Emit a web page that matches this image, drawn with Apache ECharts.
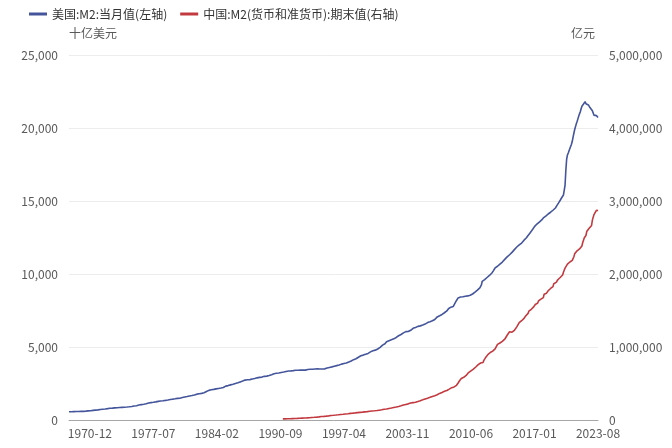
<!DOCTYPE html>
<html>
<head>
<meta charset="utf-8">
<script src="https://cdn.jsdelivr.net/npm/echarts@6/dist/echarts.min.js"></script>
<style>
html,body{margin:0;padding:0;background:#fff;}
#chart{width:672px;height:448px;}
</style>
</head>
<body>
<div id="chart"></div>
<script>
// Month categories: 1968-10 .. 2023-08
var startYear = 1968, startMonth = 10, endYear = 2023, endMonth = 8;
var categories = [];
(function(){
  var y = startYear, m = startMonth;
  while (y < endYear || (y === endYear && m <= endMonth)) {
    categories.push(y + '-' + (m < 10 ? '0' + m : '' + m));
    m++; if (m > 12) { m = 1; y++; }
  }
})();

var tickLabels = ['1970-12','1977-07','1984-02','1990-09','1997-04','2003-11','2010-06','2017-01','2023-08'];

// US M2 (billion USD), monthly from 1968-10
var usM2 = [
560,564,567,
569,571,573,575,576,578,579,580,581,583,585,587,
589,587,589,594,598,601,606,612,618,622,625,627,
632,640,650,658,665,671,676,681,686,691,696,710,
717,724,731,737,742,748,756,764,771,779,787,802,
805,809,812,816,821,826,830,832,834,838,843,855,
857,861,865,868,870,874,877,880,883,887,892,902,
905,912,920,929,941,952,960,966,972,980,990,1016,
1024,1033,1041,1053,1062,1068,1079,1090,1100,1115,1127,1152,
1162,1171,1180,1190,1197,1204,1214,1224,1234,1243,1251,1270,
1276,1282,1288,1297,1305,1312,1318,1327,1337,1344,1351,1366,
1371,1377,1386,1399,1405,1416,1427,1437,1446,1452,1458,1474,
1482,1491,1496,1495,1505,1521,1538,1554,1565,1577,1588,1600,
1608,1617,1630,1648,1654,1663,1673,1685,1694,1707,1723,1756,
1770,1777,1788,1800,1808,1817,1825,1840,1852,1867,1882,1906,
1952,1996,2015,2030,2047,2061,2071,2079,2088,2100,2111,2123,
2131,2140,2150,2162,2173,2181,2188,2195,2206,2223,2246,2306,
2320,2337,2347,2356,2370,2389,2405,2424,2437,2449,2463,2492,
2497,2505,2521,2545,2568,2587,2609,2628,2645,2667,2685,2729,
2734,2737,2743,2756,2760,2762,2766,2776,2789,2803,2810,2827,
2840,2857,2872,2887,2899,2910,2918,2926,2931,2939,2951,2989,
2990,2994,3000,3005,3008,3024,3044,3065,3084,3102,3122,3154,
3167,3179,3190,3200,3203,3214,3224,3240,3253,3258,3263,3272,
3284,3298,3316,3325,3338,3349,3354,3357,3359,3364,3369,3373,
3384,3399,3406,3408,3406,3400,3403,3406,3413,3421,3425,3424,
3417,3411,3411,3418,3440,3449,3455,3461,3468,3474,3478,3474,
3480,3483,3488,3494,3497,3494,3499,3499,3499,3496,3494,3486,
3494,3490,3494,3502,3515,3538,3557,3575,3590,3601,3610,3627,
3640,3655,3676,3685,3693,3709,3726,3735,3749,3765,3784,3818,
3827,3840,3854,3874,3878,3888,3902,3928,3947,3970,3993,4030,
4045,4077,4106,4134,4157,4175,4195,4222,4254,4301,4339,4375,
4399,4418,4427,4444,4466,4488,4506,4523,4539,4558,4585,4638,
4667,4673,4700,4747,4745,4764,4784,4814,4848,4862,4880,4925,
4978,5018,5062,5128,5147,5183,5221,5254,5364,5339,5385,5431,
5456,5490,5497,5512,5546,5560,5597,5630,5654,5690,5734,5770,
5800,5833,5856,5886,5932,5970,6021,6056,6055,6054,6053,6064,
6080,6124,6145,6195,6267,6279,6285,6304,6340,6365,6389,6412,
6420,6434,6447,6450,6468,6501,6512,6540,6571,6596,6624,6670,
6693,6717,6734,6752,6764,6800,6825,6862,6887,6919,6957,7060,
7085,7110,7143,7185,7218,7228,7256,7317,7346,7369,7393,7468,
7530,7618,7680,7718,7730,7740,7790,7780,7890,7990,8050,8187,
8300,8360,8410,8380,8420,8440,8450,8440,8460,8470,8480,8491,
8467,8500,8490,8480,8550,8570,8590,8630,8670,8720,8760,8801,
8836,8900,8960,9000,9050,9120,9260,9500,9550,9580,9610,9650,
9700,9760,9800,9850,9900,9960,10030,10070,10150,10230,10300,10413,
10434,10480,10530,10580,10640,10680,10710,10770,10820,10880,10930,10999,
11042,11110,11170,11220,11280,11320,11370,11430,11480,11530,11590,11669,
11714,11800,11850,11890,11940,11990,12030,12080,12120,12170,12230,12318,
12364,12420,12480,12570,12640,12700,12780,12860,12920,13000,13080,13199,
13247,13290,13350,13420,13460,13500,13560,13610,13660,13700,13760,13837,
13868,13920,13960,14040,14080,14110,14160,14200,14230,14270,14300,14366,
14439,14500,14520,14620,14700,14800,14870,14960,15050,15150,15240,15318,
15410,15446,16065,17098,17860,18153,18290,18377,18595,18704,18891,19089,
19374,19638,19897,20030,20284,20448,20625,20803,20970,21108,21322,21489,
21570,21640,21723,21810,21660,21676,21610,21580,21510,21400,21333,21358,
21180,21070,20880,20830,20850,20850,20790,20720
];

// China M2 (100 million CNY), monthly from 1990-12
var cnStart = '1990-12';
var cnM2 = [
15293,
15500,15700,16000,16300,16600,17000,17300,17600,18000,18300,18700,19350,
19500,19800,20300,20700,21100,21700,22200,22700,23300,23800,24400,25402,
25600,26100,26800,27400,28000,28700,29300,30000,30900,31700,32600,34880,
35300,36000,37000,37800,38700,39800,40700,41600,42900,43800,44800,46924,
47300,48400,49900,50800,51800,53300,54300,55300,56900,57900,58900,60751,
61100,62500,64000,64600,65600,67600,68500,69800,71500,72300,73500,76095,
76300,77800,79100,79800,80900,82800,83300,84300,86000,86700,87600,90995,
91500,92000,93600,94000,95200,97400,97800,99100,101400,101500,102400,104499,
105400,106400,107500,108200,109100,111600,112200,113400,114900,115800,117100,119898,
121000,122200,124300,124600,125700,126600,126800,127500,129600,129500,130500,134610,
136000,136200,139700,140000,141600,147800,146800,148300,151200,150100,152300,158302,
159600,161700,164100,165500,167800,170900,171600,174400,176900,177600,179600,185007,
190600,190100,194500,196100,199300,204900,206200,209000,213600,212500,214900,221223,
224000,224000,231700,233600,235700,238400,237900,239800,243800,243700,245900,254107,
257700,259400,264600,266000,269200,275800,276700,281300,287400,286900,290000,298756,
303600,304500,310500,313700,316700,323000,324000,327600,331900,332700,337500,345578,
351500,356000,364100,367300,369700,377800,383900,387200,393100,394000,397800,403442,
417800,421000,423000,429300,436200,443100,447700,448800,452900,453100,458600,475167,
496100,506700,530600,540500,548300,568900,573100,576700,585400,586600,594600,610225,
625600,636100,649900,656600,663400,673900,674900,687500,696500,699800,710300,725852,
733900,736100,758100,757400,763400,780800,772900,780900,787400,816800,825500,851591,
855600,867200,895600,889600,900000,924500,919000,924900,943700,936400,947100,974149,
992100,998900,1035900,1032600,1040000,1054400,1052200,1061300,1077400,1070200,1079300,1106525,
1123500,1131600,1160700,1168800,1182100,1209600,1194100,1197400,1202100,1199200,1211100,1228375,
1242700,1252700,1275300,1278400,1290000,1333400,1353200,1353600,1359800,1360200,1373900,1392278,
1416400,1424300,1446200,1447400,1461000,1490500,1495400,1510000,1516400,1519500,1530400,1550067,
1575900,1582900,1599400,1596300,1601400,1631300,1627100,1640000,1655700,1653400,1668800,1676769,
1722000,1729100,1739300,1737400,1744400,1770200,1775700,1788700,1801700,1797800,1812900,1826744,
1865900,1867400,1889400,1884700,1891500,1921400,1926700,1936500,1952100,1947400,1966000,1986489,
2023100,2030800,2080900,2093300,2100200,2134900,2125500,2136800,2164100,2149300,2172100,2186796,
2213000,2236000,2276200,2262100,2275500,2317800,2302200,2311000,2342800,2336000,2355900,2382899,
2431000,2441500,2497700,2499700,2527500,2581500,2574100,2595100,2626600,2612900,2647100,2664321,
2738100,2755300,2814600,2808500,2820500,2873000,2853600,2868100
];

var seriesNames = ['美国:M2:当月值(左轴)', '中国:M2(货币和准货币):期末值(右轴)'];
var leftUnit = '十亿美元', rightUnit = '亿元';

// Align China series onto the month categories
var cnOffset = categories.indexOf(cnStart);
var cnData = categories.map(function(c, i){
  var k = i - cnOffset;
  return (k >= 0 && k < cnM2.length) ? cnM2[k] : null;
});

var FONT = '"Noto Sans CJK SC", "Noto Sans", sans-serif';
var labelColor = '#595959';
function fmt(v){ return v.toLocaleString('en-US'); }

var chart = echarts.init(document.getElementById('chart'), null, {renderer: 'canvas'});
chart.setOption({
  animation: false,
  backgroundColor: '#ffffff',
  textStyle: { fontFamily: FONT },
  legend: {
    left: 24, top: 3,
    itemWidth: 18, itemHeight: 3, itemGap: 13,
    icon: 'rect',
    textStyle: { fontFamily: FONT, fontSize: 12, color: '#333333' },
    data: seriesNames
  },
  grid: { left: 69, right: 74, top: 55, bottom: 28, containLabel: false },
  xAxis: {
    type: 'category',
    data: categories,
    boundaryGap: false,
    axisLine: { lineStyle: { color: '#a6a6a6', width: 1 } },
    axisTick: { show: false },
    axisLabel: {
      color: labelColor, fontFamily: FONT, fontSize: 12, margin: 7,
      interval: function(i, v){ return tickLabels.indexOf(v) >= 0; },
      hideOverlap: false
    },
    splitLine: { show: false }
  },
  yAxis: [
    {
      type: 'value', min: 0, max: 25000, interval: 5000, position: 'left',
      name: leftUnit, nameLocation: 'end', nameGap: 16,
      nameTextStyle: { color: labelColor, fontFamily: FONT, fontSize: 12, align: 'left' },
      axisLine: { show: false }, axisTick: { show: false },
      axisLabel: { color: labelColor, fontFamily: FONT, fontSize: 12, margin: 11, formatter: fmt },
      splitLine: { lineStyle: { color: '#ececec', width: 1 } }
    },
    {
      type: 'value', min: 0, max: 5000000, interval: 1000000, position: 'right',
      name: rightUnit, nameLocation: 'end', nameGap: 16,
      nameTextStyle: { color: labelColor, fontFamily: FONT, fontSize: 12, align: 'right', padding: [0, 3, 0, 0] },
      axisLine: { show: false }, axisTick: { show: false },
      axisLabel: { color: labelColor, fontFamily: FONT, fontSize: 12, margin: 11, formatter: fmt },
      splitLine: { show: false }
    }
  ],
  series: [
    {
      name: seriesNames[0], type: 'line', yAxisIndex: 0,
      data: usM2, symbol: 'none', showSymbol: false,
      lineStyle: { color: '#44559b', width: 1.6 }, itemStyle: { color: '#44559b' }
    },
    {
      name: seriesNames[1], type: 'line', yAxisIndex: 1,
      data: cnData, symbol: 'none', showSymbol: false,
      lineStyle: { color: '#c23a3f', width: 1.6 }, itemStyle: { color: '#c23a3f' }
    }
  ]
});
</script>
</body>
</html>
